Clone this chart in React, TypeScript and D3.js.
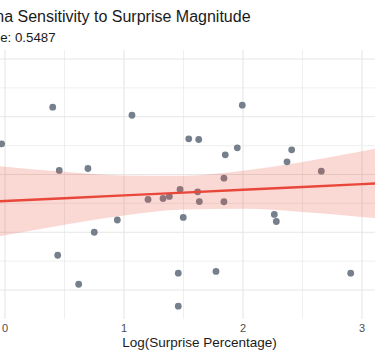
import React from 'react';
import * as d3 from 'd3';

// observed points (log surprise %, sensitivity)
const surpriseX = [
  0.401, 1.067, -0.028, 1.544, 1.628, 0.456, 0.697, 1.471, 1.202, 1.328, 1.381,
  0.944, 1.498, 1.994, 1.851, 1.952, 2.409, 2.37, 2.658, 1.84, 1.619, 1.633,
  1.84, 2.263, 2.28, 0.75, 0.443, 0.619, 1.456, 1.456, 1.773, 2.905,
];
const sensitivityY = [
  0.583, 0.513, 0.266, 0.309, 0.303, 0.035, 0.052, -0.13, -0.216, -0.208, -0.19,
  -0.394, -0.372, 0.6, 0.17, 0.231, 0.214, 0.11, 0.029, -0.032, -0.15, -0.234,
  -0.236, -0.346, -0.407, -0.5, -0.699, -0.95, -0.854, -1.14, -0.839, -0.854,
];

// linear fit with confidence band
const fitX = [-0.3, 0, 0.5, 1, 1.5, 2, 2.5, 3, 3.3];
const fitY = [-0.244, -0.229, -0.205, -0.181, -0.157, -0.132, -0.108, -0.083, -0.068];
const bandLower = [-0.585, -0.526, -0.434, -0.354, -0.304, -0.297, -0.324, -0.367, -0.395];
const bandUpper = [0.097, 0.068, 0.024, -0.008, -0.01, 0.033, 0.108, 0.201, 0.259];

const xTicks = [0, 1, 2, 3];
const xMinor = [-0.5, 0.5, 1.5, 2.5, 3.5];
const yGrid = [-1, -0.75, -0.5, -0.25, 0, 0.25, 0.5, 0.75, 1];

const W = 375;
const H = 362;
const panel = { left: -35.5, right: 434.5, top: 50, bottom: 319 };

export default function App() {
  const x = d3.scaleLinear().domain([0, 3]).range([5, 362]);
  const y = d3.scaleLinear().domain([-1, 1]).range([290, 59]);

  const band = fitX.map((v, i) => ({ x: v, lo: bandLower[i], hi: bandUpper[i], f: fitY[i] }));
  const area = d3.area<any>()
    .x(d => x(d.x))
    .y0(d => y(d.lo))
    .y1(d => y(d.hi))
    .curve(d3.curveMonotoneX);
  const line = d3.line<any>()
    .x(d => x(d.x))
    .y(d => y(d.f));

  const font = 'Liberation Sans, Arial, sans-serif';

  return (
    <svg width={W} height={H} style={{ position: 'absolute', left: 0, top: 0, background: '#fff' }}
      fontFamily={font}>
      <defs>
        <clipPath id="panel">
          <rect x={panel.left} y={panel.top} width={panel.right - panel.left} height={panel.bottom - panel.top} />
        </clipPath>
      </defs>
      {/* title and subtitle are left-aligned with the panel, which starts off-screen */}
      <text x={-32} y={22} fontSize={16} fill="#1a1a1a">Vanna Sensitivity to Surprise Magnitude</text>
      <text x={-37.5} y={41.5} fontSize={13.3} fill="#1a1a1a">P-value: 0.5487</text>

      <g>
        {xMinor.map(t => (
          <line key={'mx' + t} x1={x(t)} x2={x(t)} y1={panel.top} y2={panel.bottom} stroke="#ebebeb" strokeWidth={0.8} />
        ))}
        {xTicks.map(t => (
          <line key={'x' + t} x1={x(t)} x2={x(t)} y1={panel.top} y2={panel.bottom} stroke="#e6e6e6" strokeWidth={1.1} />
        ))}
        {yGrid.map((t, i) => (
          <line key={'y' + t} x1={panel.left} x2={panel.right} y1={y(t)} y2={y(t)}
            stroke={i % 2 === 0 ? '#e6e6e6' : '#ebebeb'} strokeWidth={i % 2 === 0 ? 1.1 : 0.8} />
        ))}
      </g>

      <g clipPath="url(#panel)">
        {surpriseX.map((v, i) => (
          <circle key={i} cx={x(v)} cy={y(sensitivityY[i])} r={3.4} fill="#76808c" />
        ))}
        <path d={area(band) || ''} fill="#e74c3c" fillOpacity={0.22} />
        <path d={line(band) || ''} fill="none" stroke="#e8473a" strokeWidth={2.4} />
      </g>

      {xTicks.map(t => (
        <text key={'xl' + t} x={x(t)} y={332} fontSize={11} fill="#4d4d4d" textAnchor="middle">{t}</text>
      ))}
      <text x={199.5} y={347} fontSize={13.5} fill="#1a1a1a" textAnchor="middle">Log(Surprise Percentage)</text>
    </svg>
  );
}
